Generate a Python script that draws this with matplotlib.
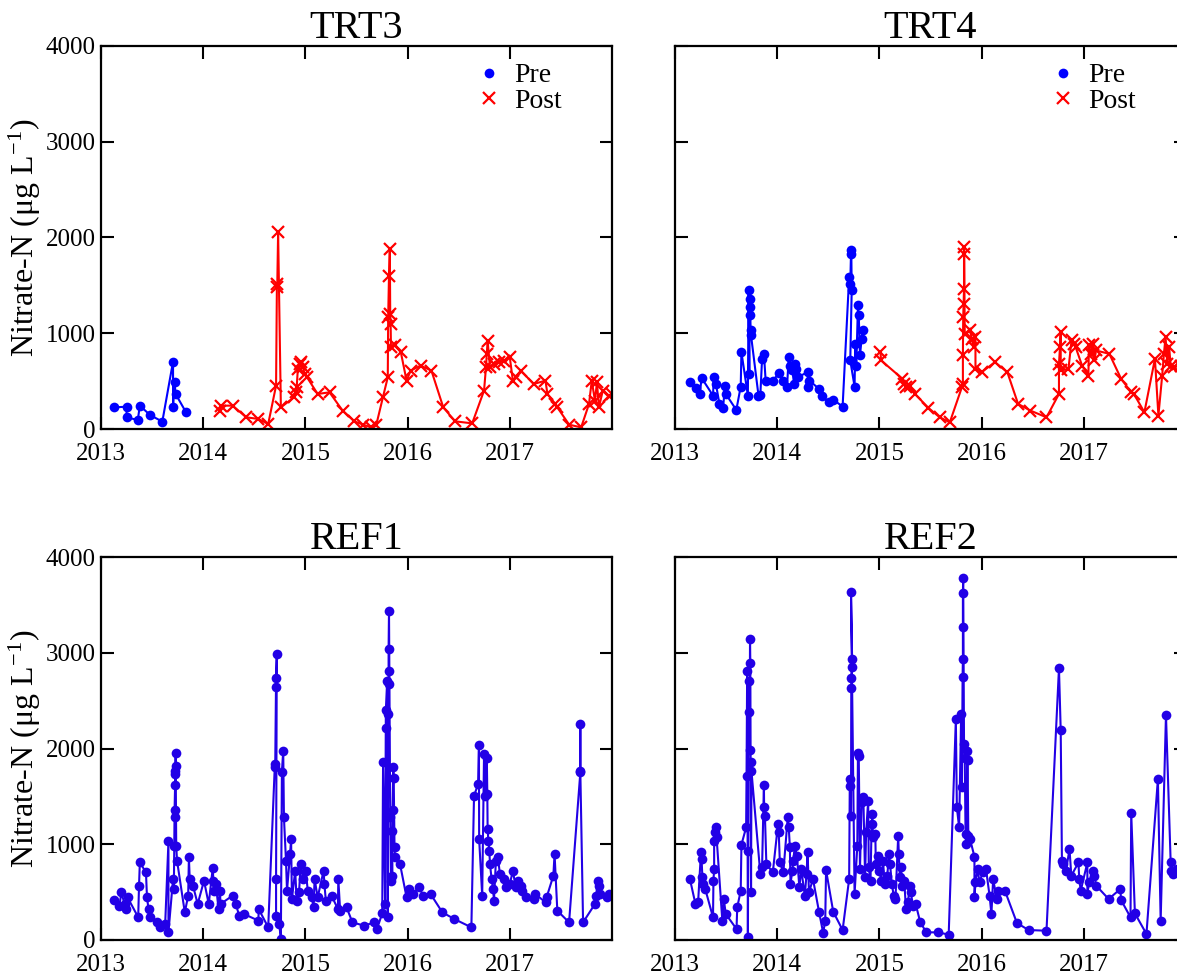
import matplotlib
matplotlib.use("Agg")
import matplotlib.pyplot as plt
from matplotlib.lines import Line2D

plt.rcParams['font.family'] = ['Liberation Serif', 'DejaVu Serif']
plt.rcParams['mathtext.fontset'] = 'stix'

# sampling dates as decimal years, nitrate-N in ug/L
trt3_pre_t = [2013.13, 2013.25, 2013.25, 2013.36, 2013.38, 2013.48, 2013.60, 2013.705, 2013.705,
              2013.72, 2013.73, 2013.83]
trt3_pre_v = [226, 233, 122, 94, 244, 146, 77, 704, 233, 488, 366, 178]

trt3_post_t = [2014.163, 2014.178, 2014.287, 2014.422, 2014.539, 2014.636, 2014.713, 2014.721,
               2014.725, 2014.733, 2014.760, 2014.888, 2014.907, 2014.915, 2014.926, 2014.946,
               2014.957, 2014.977, 2014.992, 2015.016, 2015.12, 2015.236, 2015.364, 2015.48,
               2015.566, 2015.643, 2015.694, 2015.76, 2015.806, 2015.81, 2015.818, 2015.826,
               2015.83, 2015.834, 2015.837, 2015.876, 2015.934, 2015.99, 2016.03, 2016.128,
               2016.233, 2016.349, 2016.465, 2016.632, 2016.748, 2016.767, 2016.775, 2016.783,
               2016.806, 2016.845, 2016.89, 2016.94, 2017.0, 2017.03, 2017.058, 2017.108,
               2017.233, 2017.349, 2017.368, 2017.446, 2017.465, 2017.581, 2017.698, 2017.775,
               2017.802, 2017.833, 2017.853, 2017.872, 2017.91, 2017.97, 2018.0]
trt3_post_v = [192, 244, 244, 122, 105, 52, 453, 1481, 1516, 2056, 226, 331, 383, 436, 627, 679,
               697, 645, 575, 540, 366, 383, 192, 80, 45, 17, 45, 338, 540, 1167, 1603, 1882,
               1200, 1100, 860, 880, 801, 505, 610, 662, 610, 226, 80, 59, 401, 645, 784, 923,
               645, 679, 697, 714, 749, 505, 540, 610, 470, 505, 366, 261, 226, 45, 17, 261,
               505, 296, 488, 226, 401, 348, 366]

trt4_pre_t = [2013.146, 2013.202, 2013.243, 2013.26, 2013.372, 2013.38, 2013.4, 2013.435, 2013.47,
              2013.49, 2013.497, 2013.60, 2013.643, 2013.65, 2013.713, 2013.72, 2013.727, 2013.73,
              2013.734, 2013.737, 2013.74, 2013.744, 2013.817, 2013.835, 2013.852, 2013.87,
              2013.887, 2013.957, 2014.019, 2014.06, 2014.096, 2014.113, 2014.123, 2014.148,
              2014.165, 2014.172, 2014.183, 2014.2, 2014.297, 2014.304, 2014.315, 2014.409,
              2014.437, 2014.503, 2014.548, 2014.64, 2014.704, 2014.715, 2014.722, 2014.725,
              2014.729, 2014.715, 2014.757, 2014.764, 2014.774, 2014.79, 2014.798, 2014.81,
              2014.826, 2014.837]
trt4_pre_v = [489, 426, 366, 534, 349, 548, 471, 262, 220, 454, 366, 199, 443, 803, 349, 1455,
              576, 1361, 1274, 1187, 1030, 977, 349, 356, 733, 785, 506, 506, 583, 506, 436, 757,
              663, 611, 471, 681, 628, 541, 593, 436, 506, 419, 342, 279, 307, 234, 1588, 1518,
              1832, 1867, 1448, 716, 443, 890, 653, 1291, 1187, 768, 942, 1037]

trt4_post_t = [2015.01, 2015.017, 2015.226, 2015.243, 2015.26, 2015.296, 2015.348, 2015.48,
               2015.59, 2015.689, 2015.807, 2015.817, 2015.817, 2015.82, 2015.824, 2015.828,
               2015.828, 2015.83, 2015.835, 2015.887, 2015.904, 2015.922, 2015.94, 2015.94,
               2016.0, 2016.13, 2016.252, 2016.357, 2016.478, 2016.635, 2016.757, 2016.757,
               2016.767, 2016.774, 2016.774, 2016.85, 2016.88, 2016.906, 2016.92, 2016.983,
               2017.045, 2017.05, 2017.07, 2017.087, 2017.104, 2017.12, 2017.25, 2017.365,
               2017.464, 2017.49, 2017.593, 2017.696, 2017.73, 2017.767, 2017.784, 2017.8,
               2017.817, 2017.835, 2017.85, 2017.886, 2017.95]
trt4_post_v = [803, 716, 524, 471, 443, 454, 366, 220, 122, 70, 436, 471, 768, 1169, 1309, 1466,
               1902, 1832, 995, 1030, 942, 855, 960, 628, 593, 698, 593, 262, 192, 122, 366, 681,
               855, 1012, 611, 628, 925, 890, 855, 663, 558, 873, 785, 890, 716, 820, 785, 524,
               384, 366, 175, 733, 140, 558, 785, 960, 681, 855, 663, 646, 660]

ref1_t = [2013.13, 2013.18, 2013.2, 2013.23, 2013.248, 2013.26, 2013.364, 2013.372, 2013.38,
          2013.44, 2013.45, 2013.465, 2013.484, 2013.55, 2013.58, 2013.628, 2013.66, 2013.66,
          2013.705, 2013.713, 2013.717, 2013.72, 2013.72, 2013.725, 2013.725, 2013.728, 2013.73,
          2013.73, 2013.736, 2013.744, 2013.82, 2013.853, 2013.86, 2013.868, 2013.9, 2013.946,
          2014.008, 2014.054, 2014.093, 2014.1, 2014.11, 2014.124, 2014.15, 2014.163, 2014.17,
          2014.287, 2014.318, 2014.353, 2014.4, 2014.54, 2014.543, 2014.636, 2014.70, 2014.705,
          2014.713, 2014.713, 2014.72, 2014.713, 2014.713, 2014.744, 2014.76, 2014.77, 2014.783,
          2014.79, 2014.81, 2014.82, 2014.85, 2014.86, 2014.868, 2014.9, 2014.915, 2014.938,
          2014.953, 2014.977, 2015.004, 2015.023, 2015.062, 2015.08, 2015.09, 2015.12, 2015.178,
          2015.186, 2015.2, 2015.256, 2015.318, 2015.322, 2015.34, 2015.403, 2015.46, 2015.574,
          2015.674, 2015.7, 2015.752, 2015.76, 2015.78, 2015.787, 2015.787, 2015.8, 2015.806,
          2015.81, 2015.814, 2015.814, 2015.818, 2015.822, 2015.83, 2015.837, 2015.845, 2015.849,
          2015.853, 2015.86, 2015.864, 2015.872, 2015.876, 2015.926, 2015.99, 2016.01, 2016.05,
          2016.11, 2016.155, 2016.225, 2016.34, 2016.457, 2016.624, 2016.65, 2016.69, 2016.698,
          2016.7, 2016.73, 2016.748, 2016.76, 2016.775, 2016.78, 2016.783, 2016.79, 2016.8,
          2016.806, 2016.822, 2016.837, 2016.845, 2016.864, 2016.884, 2016.903, 2016.94, 2016.96,
          2017.0, 2017.03, 2017.058, 2017.085, 2017.108, 2017.124, 2017.155, 2017.233, 2017.25,
          2017.35, 2017.36, 2017.426, 2017.438, 2017.465, 2017.58, 2017.69, 2017.69, 2017.69,
          2017.717, 2017.833, 2017.845, 2017.86, 2017.872, 2017.884, 2017.95, 2017.97]
ref1_v = [417, 358, 497, 376, 323, 445, 237, 567, 810, 706, 445, 323, 237, 184, 132, 167, 1030,
          80, 637, 532, 984, 1280, 1360, 1617, 1732, 1767, 1819, 1958, 984, 828, 289, 463, 863,
          637, 567, 376, 619, 376, 748, 619, 515, 584, 323, 515, 376, 463, 376, 254, 271, 202,
          323, 132, 1802, 1843, 2643, 2741, 2984, 637, 254, 167, 10, 1757, 1976, 1280, 828, 515,
          897, 1054, 428, 723, 410, 497, 793, 637, 723, 515, 445, 348, 637, 445, 723, 584, 410,
          463, 323, 637, 306, 341, 184, 150, 184, 115, 278, 1864, 376, 2219, 2400, 2706, 237,
          2358, 2810, 3037, 3437, 2671, 1280, 619, 1141, 671, 1357, 1802, 1697, 967, 870, 793,
          445, 532, 480, 549, 463, 480, 289, 219, 132, 1506, 1628, 2035, 1054, 463, 1941, 1506,
          1906, 1523, 1158, 1037, 932, 793, 637, 532, 410, 828, 863, 689, 637, 549, 584, 723,
          549, 619, 567, 515, 445, 428, 480, 393, 445, 671, 897, 306, 184, 1750, 2254, 1767, 184,
          376, 463, 619, 567, 480, 445, 480]

ref2_t = [2013.146, 2013.2, 2013.226, 2013.254, 2013.26, 2013.268, 2013.275, 2013.296, 2013.372,
          2013.376, 2013.383, 2013.383, 2013.393, 2013.4, 2013.407, 2013.463, 2013.477, 2013.497,
          2013.602, 2013.609, 2013.643, 2013.65, 2013.696, 2013.7, 2013.706, 2013.713, 2013.717,
          2013.72, 2013.727, 2013.73, 2013.734, 2013.737, 2013.74, 2013.744, 2013.748, 2013.835,
          2013.852, 2013.87, 2013.872, 2013.88, 2013.894, 2013.957, 2014.008, 2014.015, 2014.026,
          2014.06, 2014.103, 2014.113, 2014.124, 2014.13, 2014.148, 2014.158, 2014.172, 2014.193,
          2014.217, 2014.235, 2014.27, 2014.287, 2014.297, 2014.311, 2014.35, 2014.409, 2014.45,
          2014.47, 2014.478, 2014.548, 2014.64, 2014.704, 2014.71, 2014.715, 2014.722, 2014.725,
          2014.725, 2014.73, 2014.733, 2014.722, 2014.757, 2014.784, 2014.79, 2014.798, 2014.81,
          2014.826, 2014.843, 2014.86, 2014.87, 2014.89, 2014.896, 2014.913, 2014.924, 2014.93,
          2014.937, 2014.96, 2014.965, 2014.983, 2015.0, 2015.017, 2015.035, 2015.052, 2015.077,
          2015.094, 2015.104, 2015.122, 2015.14, 2015.157, 2015.184, 2015.19, 2015.2, 2015.21,
          2015.226, 2015.243, 2015.26, 2015.28, 2015.296, 2015.306, 2015.33, 2015.355, 2015.4,
          2015.46, 2015.574, 2015.678, 2015.748, 2015.758, 2015.78, 2015.8, 2015.807, 2015.814,
          2015.817, 2015.817, 2015.817, 2015.82, 2015.828, 2015.835, 2015.843, 2015.852, 2015.86,
          2015.863, 2015.87, 2015.887, 2015.93, 2015.93, 2015.94, 2015.96, 2015.98, 2016.01,
          2016.043, 2016.078, 2016.096, 2016.113, 2016.148, 2016.165, 2016.228, 2016.346,
          2016.46, 2016.635, 2016.757, 2016.774, 2016.786, 2016.8, 2016.826, 2016.86, 2016.878,
          2016.948, 2016.955, 2016.97, 2017.035, 2017.035, 2017.052, 2017.087, 2017.104,
          2017.122, 2017.243, 2017.357, 2017.365, 2017.457, 2017.464, 2017.5, 2017.613, 2017.725,
          2017.752, 2017.804, 2017.85, 2017.857, 2017.874, 2017.91]
ref2_v = [637, 376, 393, 915, 845, 654, 584, 532, 237, 619, 741, 1037, 1123, 1176, 1071, 202,
          428, 271, 115, 341, 515, 995, 1176, 1715, 2810, 28, 932, 2706, 2376, 1983, 3141, 2897,
          1854, 497, 1767, 689, 758, 1621, 1384, 1297, 793, 706, 1210, 1123, 810, 706, 1280,
          1176, 967, 584, 723, 828, 984, 880, 549, 741, 463, 689, 915, 497, 637, 296, 73, 202,
          730, 296, 104, 637, 1610, 1680, 1297, 2630, 2741, 2856, 2932, 3638, 480, 984, 1948,
          1923, 741, 1437, 1489, 654, 1123, 1454, 758, 619, 1210, 1315, 1071, 1106, 793, 880,
          723, 619, 828, 584, 671, 897, 793, 584, 463, 428, 1089, 897, 654, 758, 567, 619, 323,
          393, 567, 497, 358, 376, 184, 80, 80, 56, 2306, 1384, 1176, 2358, 1593, 2748, 2939,
          3270, 3628, 3777, 2045, 1906, 1106, 1002, 1976, 1878, 1089, 1054, 870, 445, 602, 741,
          602, 706, 741, 463, 271, 637, 428, 515, 515, 177, 104, 97, 2838, 2191, 828, 793, 723,
          950, 671, 810, 637, 515, 810, 480, 602, 723, 671, 567, 428, 532, 417, 237, 1322, 278,
          63, 1680, 202, 2351, 810, 723, 689, 741]

panels = [
    ("TRT3", [(trt3_pre_t, trt3_pre_v, 'pre'), (trt3_post_t, trt3_post_v, 'post')]),
    ("TRT4", [(trt4_pre_t, trt4_pre_v, 'pre'), (trt4_post_t, trt4_post_v, 'post')]),
    ("REF1", [(ref1_t, ref1_v, 'ref')]),
    ("REF2", [(ref2_t, ref2_v, 'ref')]),
]

styles = {
    'pre': dict(color='#0000ff', marker='o', ms=7, mew=0),
    'post': dict(color='#ff0000', marker='x', ms=8, mew=1.6),
    'ref': dict(color='#2200e6', marker='o', ms=7, mew=0),
}

fig = plt.figure(figsize=(11.77, 9.75), dpi=100)
W, H = 1177, 975
positions = [(101, 46), (675, 46), (101, 557), (675, 557)]
aw, ah = 511, 383

for i, ((title, series), (px, py)) in enumerate(zip(panels, positions)):
    ax = fig.add_axes([px / W, 1 - (py + ah) / H, aw / W, ah / H])
    for t, v, kind in series:
        ax.plot(t, v, lw=1.5, **styles[kind])
    ax.set_xlim(2013, 2018)
    ax.set_ylim(0, 4000)
    ax.set_xticks([2013, 2014, 2015, 2016, 2017])
    ax.set_yticks([0, 1000, 2000, 3000, 4000])
    ax.tick_params(direction='in', length=9, width=1.5, top=True, right=True,
                   labelsize=18, pad=4)
    ax.tick_params(axis='x', pad=10)
    for s in ax.spines.values():
        s.set_linewidth(1.6)
    ax.set_title(title, fontsize=29, pad=6)
    if i % 2 == 0:
        ax.set_ylabel("Nitrate-N (μg L$^{\\mathregular{-1}}$)", fontsize=23, labelpad=2)
    else:
        ax.set_yticklabels([])
    if i < 2:
        handles = [Line2D([], [], ls='none', **styles['pre']),
                   Line2D([], [], ls='none', **styles['post'])]
        ax.legend(handles, ['Pre', 'Post'], loc='upper left', bbox_to_anchor=(0.71, 0.985),
                  frameon=False, fontsize=20, handlelength=1.0, handletextpad=0.4,
                  labelspacing=0.0, borderaxespad=0)

fig.savefig("out.png", dpi=100)
